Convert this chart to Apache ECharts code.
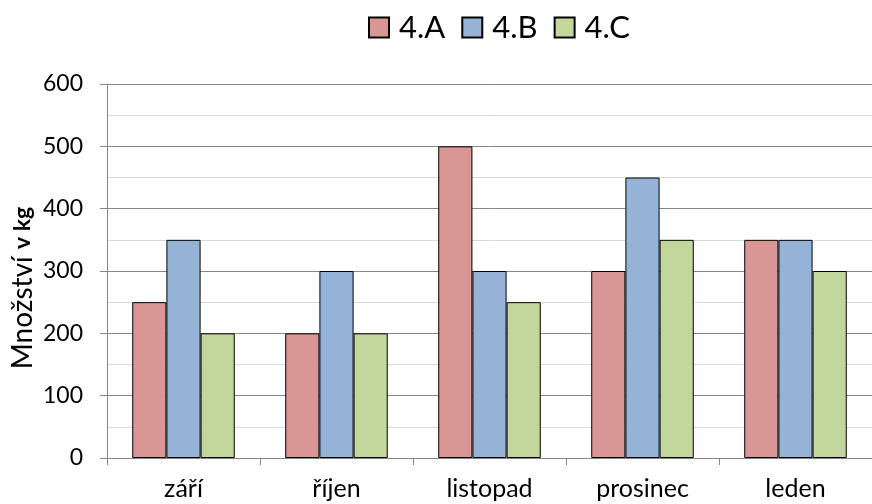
<!DOCTYPE html>
<html><head><meta charset="utf-8">
<script src="https://cdn.jsdelivr.net/npm/echarts@6/dist/echarts.min.js"></script>
<style>html,body{margin:0;padding:0;background:#fff}#c{width:872px;height:504px}</style>
</head><body><div id="c"></div>
<script>
const categories = ['září', 'říjen', 'listopad', 'prosinec', 'leden'];
const seriesNames = ['4.A', '4.B', '4.C'];
const valuesA = [250, 200, 500, 300, 350];
const valuesB = [350, 300, 300, 450, 350];
const valuesC = [200, 200, 250, 350, 300];
const colors = ['#D99694', '#95B3D7', '#C3D69B'];
const FONT = 'Lato';

const chart = echarts.init(document.getElementById('c'), null, {renderer: 'canvas'});
const mk = (name, data, color) => ({
  name, type: 'bar', data, barGap: '0%', barCategoryGap: '33%',
  itemStyle: {color, borderColor: '#000', borderWidth: 1},
  animation: false
});
chart.setOption({
  animation: false,
  textStyle: {fontFamily: FONT},
  legend: {
    left: 363, top: 7, itemWidth: 20, itemHeight: 20, itemGap: 16, icon: 'rect',
    data: seriesNames,
    textStyle: {fontFamily: FONT, fontSize: 31, color: '#000', padding: [0, 0, 0, 5]}
  },
  grid: {left: 107, top: 84, width: 772, height: 374, containLabel: false},
  xAxis: {
    type: 'category', data: categories,
    axisLine: {lineStyle: {color: '#868686', width: 1}},
    axisTick: {show: true, alignWithLabel: false, length: 7, lineStyle: {color: '#868686'}},
    axisLabel: {fontFamily: FONT, fontSize: 25, color: '#000', margin: 18}
  },
  yAxis: {
    type: 'value', min: 0, max: 600, interval: 100,
    axisLine: {show: true, lineStyle: {color: '#868686', width: 1}},
    axisTick: {show: true, length: 7, lineStyle: {color: '#868686'}},
    axisLabel: {fontFamily: FONT, fontSize: 23, color: '#000', margin: 24},
    splitLine: {show: true, lineStyle: {color: '#868686', width: 1}},
    minorTick: {show: false, splitNumber: 2},
    minorSplitLine: {show: true, lineStyle: {color: '#D9D9D9', width: 1}}
  },
  graphic: [{
    type: 'text', x: 23, y: 288, rotation: Math.PI / 2,
    style: {
      text: '{a|Množství }{b|v kg}', x: 0, y: 0, align: 'center', verticalAlign: 'middle',
      rich: {
        a: {fontFamily: FONT, fontSize: 28, color: '#000'},
        b: {fontFamily: FONT, fontSize: 23, fontWeight: 'bold', color: '#000'}
      }
    }
  }],
  series: [
    mk(seriesNames[0], valuesA, colors[0]),
    mk(seriesNames[1], valuesB, colors[1]),
    mk(seriesNames[2], valuesC, colors[2])
  ]
});
</script></body></html>
